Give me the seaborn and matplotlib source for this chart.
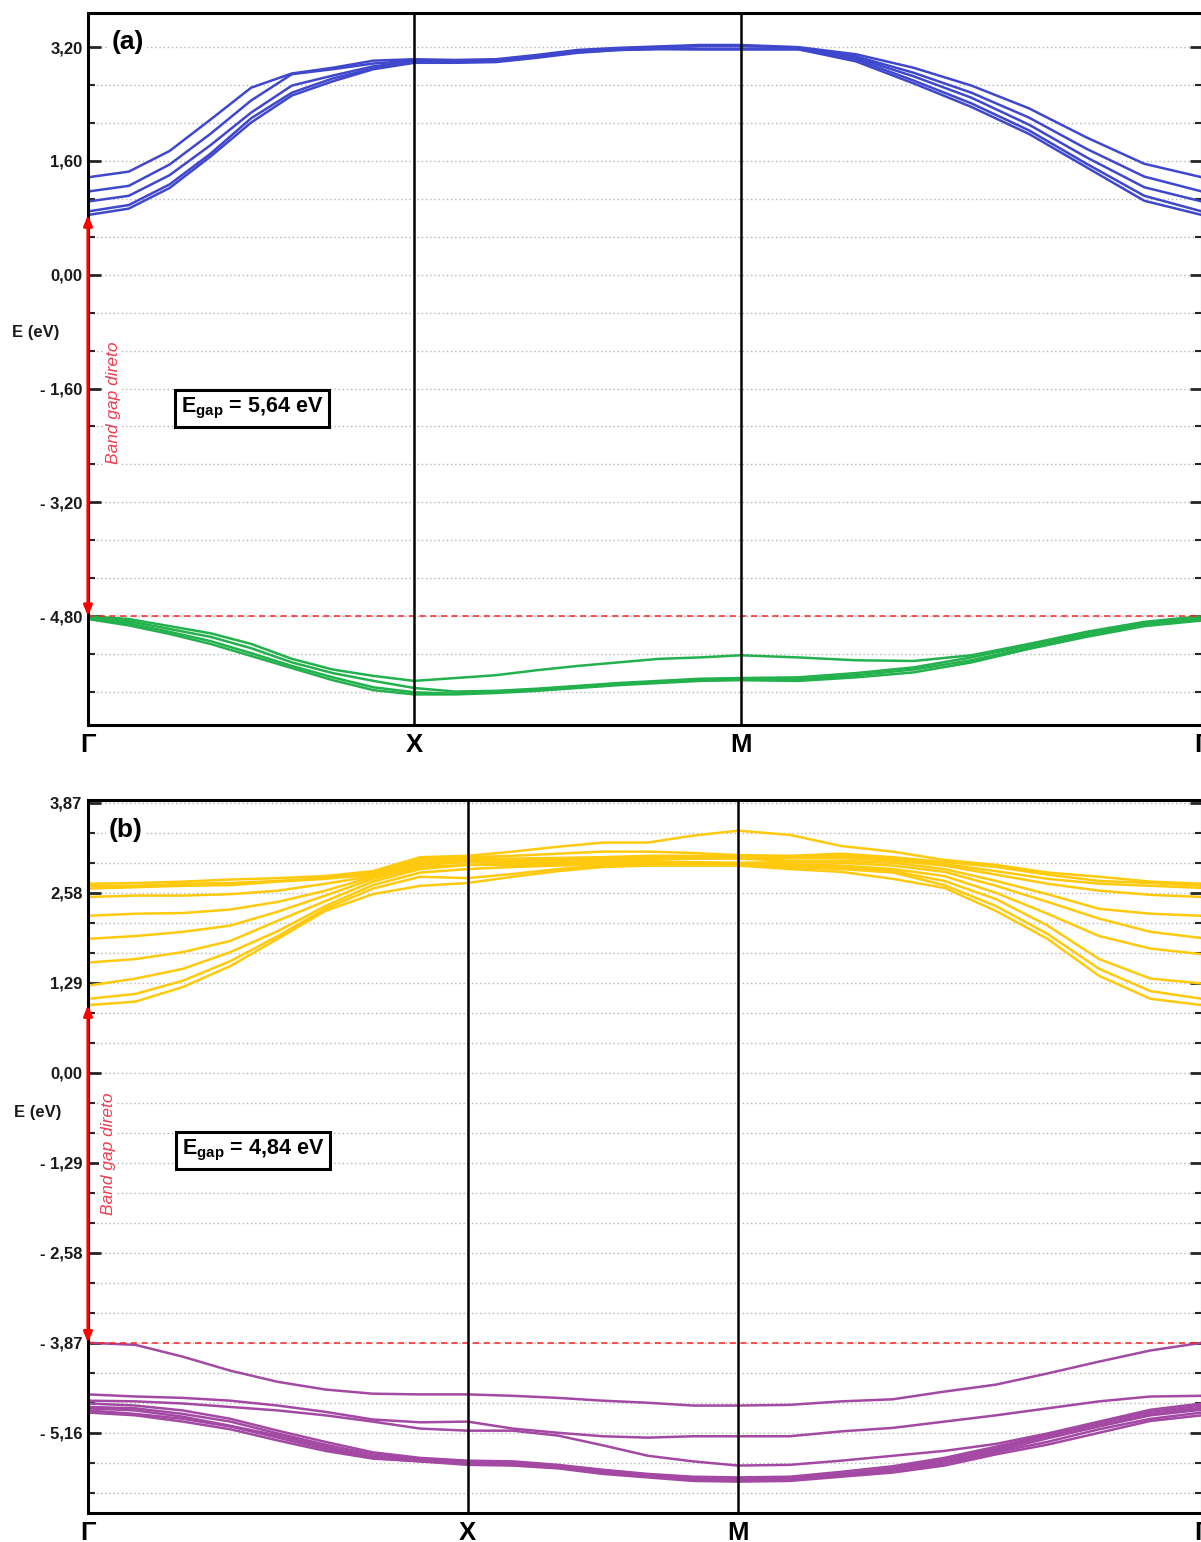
import pandas
import seaborn as sns
import matplotlib
matplotlib.use("Agg")
from matplotlib import pyplot
from matplotlib.ticker import MultipleLocator, FuncFormatter

sns.set_style("white")
pyplot.rcParams['font.family'] = ['Liberation Sans', 'DejaVu Sans']
pyplot.rcParams['mathtext.fontset'] = 'custom'
pyplot.rcParams['mathtext.rm'] = 'Liberation Sans:bold'
pyplot.rcParams['mathtext.bf'] = 'Liberation Sans:bold'

# ---------------- panel (a): square path G-X-M-G ----------------
k_a = [0, 0.0625, 0.125, 0.1875, 0.25, 0.3125, 0.375, 0.4375, 0.5,
       0.5625, 0.625, 0.6875, 0.75, 0.8125, 0.875, 0.9375, 1.0,
       1.0884, 1.1768, 1.2652, 1.3536, 1.4419, 1.5303, 1.6187, 1.7071]
kpts_a = [0, 0.5, 1.0, 1.7071]

cond_a = [
    [0.84, 0.93, 1.22, 1.66, 2.14, 2.52, 2.72, 2.89, 2.98, 2.98, 2.99, 3.05, 3.12, 3.16, 3.17, 3.17, 3.17,
     3.17, 3.00, 2.69, 2.36, 1.98, 1.51, 1.04, 0.84],
    [0.89, 0.98, 1.27, 1.70, 2.20, 2.56, 2.76, 2.90, 2.99, 2.99, 3.00, 3.06, 3.13, 3.16, 3.18, 3.17, 3.17,
     3.17, 3.03, 2.73, 2.41, 2.03, 1.56, 1.11, 0.89],
    [1.03, 1.11, 1.40, 1.82, 2.28, 2.66, 2.80, 2.93, 3.00, 3.00, 3.01, 3.07, 3.14, 3.17, 3.19, 3.18, 3.18,
     3.18, 3.05, 2.79, 2.49, 2.11, 1.65, 1.23, 1.03],
    [1.17, 1.25, 1.55, 1.98, 2.45, 2.82, 2.89, 2.97, 3.01, 3.01, 3.02, 3.08, 3.15, 3.18, 3.20, 3.22, 3.22,
     3.19, 3.07, 2.84, 2.56, 2.21, 1.77, 1.38, 1.17],
    [1.37, 1.45, 1.74, 2.18, 2.63, 2.83, 2.91, 3.01, 3.03, 3.02, 3.03, 3.09, 3.16, 3.19, 3.21, 3.23, 3.23,
     3.20, 3.10, 2.91, 2.66, 2.34, 1.93, 1.56, 1.37],
]
val_a = [
    [-4.80, -4.84, -4.94, -5.04, -5.19, -5.40, -5.55, -5.64, -5.71, -5.67, -5.63, -5.56, -5.50, -5.45, -5.40, -5.38, -5.35,
     -5.38, -5.42, -5.43, -5.35, -5.19, -5.02, -4.88, -4.80],
    [-4.81, -4.87, -4.98, -5.09, -5.25, -5.45, -5.60, -5.71, -5.81, -5.86, -5.85, -5.82, -5.78, -5.74, -5.71, -5.68, -5.67,
     -5.66, -5.60, -5.52, -5.38, -5.21, -5.04, -4.90, -4.83],
    [-4.83, -4.90, -5.02, -5.15, -5.32, -5.50, -5.66, -5.80, -5.87, -5.89, -5.86, -5.83, -5.79, -5.75, -5.72, -5.69, -5.68,
     -5.69, -5.63, -5.55, -5.42, -5.24, -5.07, -4.91, -4.84],
    [-4.84, -4.93, -5.05, -5.19, -5.36, -5.53, -5.70, -5.84, -5.90, -5.90, -5.88, -5.85, -5.81, -5.77, -5.74, -5.71, -5.70,
     -5.71, -5.66, -5.59, -5.45, -5.26, -5.09, -4.94, -4.86],
]
vbm_a, cbm_a, gap_a = -4.80, 0.84, '5,64'

# ---------------- panel (b): rectangular path G-X-M-G ----------------
k_b = [0, 0.0426, 0.0852, 0.1278, 0.1704, 0.2130, 0.2556, 0.2982, 0.3408,
       0.3813, 0.4218, 0.4622, 0.5027, 0.5431, 0.5836,
       0.6299, 0.6762, 0.7224, 0.7687, 0.8150, 0.8613, 0.9076, 0.9538, 1.0]
kpts_b = [0, 0.3408, 0.5836, 1.0]

cond_b = [
    [0.97, 1.02, 1.23, 1.53, 1.92, 2.32, 2.56, 2.68, 2.72, 2.81, 2.89, 2.95, 2.97, 2.97, 2.97,
     2.92, 2.88, 2.78, 2.65, 2.32, 1.92, 1.39, 1.06, 0.97],
    [1.06, 1.13, 1.32, 1.60, 1.96, 2.35, 2.64, 2.81, 2.79, 2.85, 2.92, 2.97, 2.98, 2.98, 2.98,
     2.95, 2.92, 2.87, 2.69, 2.39, 1.99, 1.49, 1.17, 1.06],
    [1.25, 1.35, 1.49, 1.73, 2.03, 2.39, 2.69, 2.87, 2.92, 2.95, 2.97, 2.98, 2.98, 2.98, 2.98,
     2.97, 2.95, 2.89, 2.75, 2.49, 2.11, 1.63, 1.35, 1.28],
    [1.58, 1.63, 1.73, 1.89, 2.18, 2.46, 2.74, 2.92, 2.98, 2.98, 2.99, 2.99, 3.01, 3.01, 2.99,
     2.99, 2.97, 2.92, 2.82, 2.58, 2.28, 1.96, 1.78, 1.70],
    [1.92, 1.96, 2.02, 2.11, 2.31, 2.54, 2.78, 2.95, 2.98, 2.99, 3.01, 3.02, 3.02, 3.02, 3.01,
     3.02, 3.01, 2.97, 2.88, 2.68, 2.45, 2.21, 2.02, 1.93],
    [2.25, 2.28, 2.29, 2.34, 2.45, 2.61, 2.81, 2.98, 3.02, 3.02, 3.02, 3.04, 3.05, 3.07, 3.07,
     3.04, 3.04, 3.01, 2.92, 2.75, 2.56, 2.35, 2.28, 2.25],
    [2.52, 2.54, 2.54, 2.56, 2.61, 2.71, 2.82, 3.01, 3.05, 3.04, 3.05, 3.07, 3.08, 3.08, 3.08,
     3.08, 3.08, 3.04, 2.97, 2.84, 2.71, 2.61, 2.55, 2.52],
    [2.64, 2.66, 2.68, 2.69, 2.74, 2.78, 2.84, 3.04, 3.07, 3.07, 3.08, 3.09, 3.11, 3.11, 3.11,
     3.09, 3.11, 3.07, 2.99, 2.89, 2.78, 2.71, 2.68, 2.65],
    [2.68, 2.68, 2.71, 2.72, 2.75, 2.79, 2.87, 3.07, 3.09, 3.11, 3.14, 3.17, 3.17, 3.15, 3.12,
     3.11, 3.14, 3.09, 3.02, 2.95, 2.84, 2.75, 2.72, 2.68],
    [2.71, 2.72, 2.74, 2.77, 2.79, 2.82, 2.89, 3.09, 3.11, 3.17, 3.24, 3.30, 3.30, 3.40, 3.47,
     3.41, 3.25, 3.17, 3.05, 2.98, 2.87, 2.81, 2.74, 2.71],
]
val_b = [
    [-4.87, -4.91, -5.00, -5.11, -5.27, -5.42, -5.53, -5.57, -5.62, -5.63, -5.67, -5.75, -5.80, -5.85, -5.86,
     -5.85, -5.79, -5.73, -5.63, -5.47, -5.33, -5.16, -4.99, -4.91],
    [-4.84, -4.89, -4.96, -5.07, -5.23, -5.39, -5.52, -5.57, -5.60, -5.62, -5.66, -5.73, -5.79, -5.83, -5.85,
     -5.83, -5.77, -5.72, -5.60, -5.44, -5.29, -5.11, -4.96, -4.87],
    [-4.81, -4.84, -4.93, -5.06, -5.20, -5.36, -5.50, -5.56, -5.59, -5.60, -5.64, -5.72, -5.77, -5.82, -5.83,
     -5.82, -5.76, -5.69, -5.57, -5.42, -5.24, -5.07, -4.91, -4.83],
    [-4.79, -4.81, -4.89, -5.00, -5.17, -5.33, -5.47, -5.54, -5.57, -5.59, -5.63, -5.70, -5.76, -5.80, -5.82,
     -5.80, -5.75, -5.67, -5.54, -5.39, -5.21, -5.04, -4.89, -4.80],
    [-4.74, -4.77, -4.84, -4.96, -5.13, -5.29, -5.44, -5.52, -5.56, -5.57, -5.62, -5.69, -5.75, -5.79, -5.80,
     -5.79, -5.72, -5.64, -5.52, -5.36, -5.19, -5.01, -4.86, -4.77],
    [-4.70, -4.71, -4.74, -4.79, -4.84, -4.91, -5.00, -5.10, -5.13, -5.13, -5.20, -5.34, -5.49, -5.57, -5.63,
     -5.62, -5.56, -5.49, -5.42, -5.32, -5.17, -5.00, -4.83, -4.74],
    [-4.61, -4.64, -4.66, -4.70, -4.77, -4.86, -4.97, -5.01, -5.00, -5.10, -5.16, -5.21, -5.23, -5.21, -5.21,
     -5.21, -5.14, -5.09, -5.00, -4.91, -4.81, -4.71, -4.64, -4.63],
    [-3.87, -3.90, -4.07, -4.27, -4.43, -4.54, -4.60, -4.61, -4.61, -4.63, -4.66, -4.70, -4.73, -4.77, -4.77,
     -4.76, -4.71, -4.68, -4.57, -4.47, -4.31, -4.14, -3.98, -3.87],
]
vbm_b, cbm_b, gap_b = -3.87, 0.97, '4,84'

kpt_labels = ['Γ', 'X', 'M', 'Γ']


def to_long(k, bands):
    rows = []
    for i, band in enumerate(bands):
        for kk, e in zip(k, band):
            rows.append((kk, e, i))
    return pandas.DataFrame(rows, columns=['k', 'E', 'band'])


def comma_fmt(v, pos):
    s = f'{abs(v):.2f}'.replace('.', ',')
    return '- ' + s if v < -1e-9 else s


def plot_panel(ax, k, cond, val, kpts, c_col, v_col, step, ylim, vbm, cbm, tag, gap,
               tag_xy, gap_xy, ylab_xy, note_xy):
    sns.lineplot(data=to_long(k, cond), x='k', y='E', units='band', estimator=None,
                 color=c_col, linewidth=1.8, ax=ax, legend=False, sort=False, zorder=2)
    sns.lineplot(data=to_long(k, val), x='k', y='E', units='band', estimator=None,
                 color=v_col, linewidth=1.8, ax=ax, legend=False, sort=False, zorder=2)

    ax.set_xlim(kpts[0], kpts[-1])
    ax.set_ylim(*ylim)
    for kp in kpts[1:-1]:
        ax.axvline(kp, color='black', lw=1.8, zorder=3)
    ax.axhline(vbm, color='#ff2020', lw=1.1, ls=(0, (4, 3)), zorder=2.5)

    ax.set_xticks(kpts)
    ax.set_xticklabels(kpt_labels, fontsize=18.5, fontweight='bold', color='black')
    ax.tick_params(axis='x', length=0, pad=6)

    ax.yaxis.set_major_locator(MultipleLocator(step))
    ax.yaxis.set_minor_locator(MultipleLocator(step / 3))
    ax.yaxis.set_major_formatter(FuncFormatter(comma_fmt))
    ax.tick_params(axis='y', which='both', direction='in', left=True, right=True,
                   labelsize=12, labelcolor='#1a1a1a', pad=4)
    ax.tick_params(axis='y', which='major', length=9, width=2)
    ax.tick_params(axis='y', which='minor', length=5, width=1.5)
    for lab in ax.get_yticklabels():
        lab.set_fontweight('bold')
    ax.grid(which='both', axis='y', color='#b4b4b4', lw=1, ls=(0, (1, 2)))
    ax.set_axisbelow(True)
    for sp in ax.spines.values():
        sp.set_linewidth(2.2)
        sp.set_color('black')

    ax.set_xlabel('')
    ax.set_ylabel('E (eV)', rotation=0, fontsize=12, fontweight='bold',
                  color='#1a1a1a', ha='center', va='center')
    ax.yaxis.set_label_coords(*ylab_xy)

    ax.annotate('', xy=(kpts[0], cbm), xytext=(kpts[0], vbm),
                arrowprops=dict(arrowstyle='<|-|>,head_length=0.6,head_width=0.25',
                                color='red', lw=2.2, shrinkA=0, shrinkB=0),
                zorder=6, annotation_clip=False)
    ax.text(note_xy[0], note_xy[1], 'Band gap direto', transform=ax.transAxes,
            rotation=90, color='#f03c50', style='italic', fontsize=12.5,
            ha='center', va='center', zorder=5,
            bbox=dict(fc='white', ec='none', pad=1))
    ax.text(tag_xy[0], tag_xy[1], tag, transform=ax.transAxes, fontsize=19,
            fontweight='bold', color='black', ha='center', va='center', zorder=5,
            bbox=dict(fc='white', ec='none', pad=2))
    ax.text(gap_xy[0], gap_xy[1], r'E$_{\mathbf{gap}}$ = ' + gap + ' eV',
            transform=ax.transAxes, fontsize=15.5, fontweight='bold', color='black',
            ha='center', va='center', zorder=5,
            bbox=dict(boxstyle='square,pad=0.28', fc='white', ec='black', lw=2.2))


if __name__ == '__main__':
    fig = pyplot.figure(figsize=(12.01, 15.42), dpi=100)
    ax_a = fig.add_axes([88 / 1201, 1 - 725 / 1542, 1114 / 1201, 712 / 1542])
    ax_b = fig.add_axes([88 / 1201, 1 - 1513 / 1542, 1114 / 1201, 713 / 1542])

    plot_panel(ax_a, k_a, cond_a, val_a, kpts_a, '#3f48cc', '#22b14c', 1.6,
               (-6.33, 3.68), vbm_a, cbm_a, '(a)', gap_a,
               (0.036, 0.959), (0.147, 0.444), (-0.047, 0.551), (0.0225, 0.453))
    plot_panel(ax_b, k_b, cond_b, val_b, kpts_b, '#ffc90e', '#a349a4', 1.29,
               (-6.31, 3.91), vbm_b, cbm_b, '(b)', gap_b,
               (0.034, 0.958), (0.148, 0.508), (-0.045, 0.562), (0.018, 0.504))

    pyplot.savefig('out.png', dpi=100)
